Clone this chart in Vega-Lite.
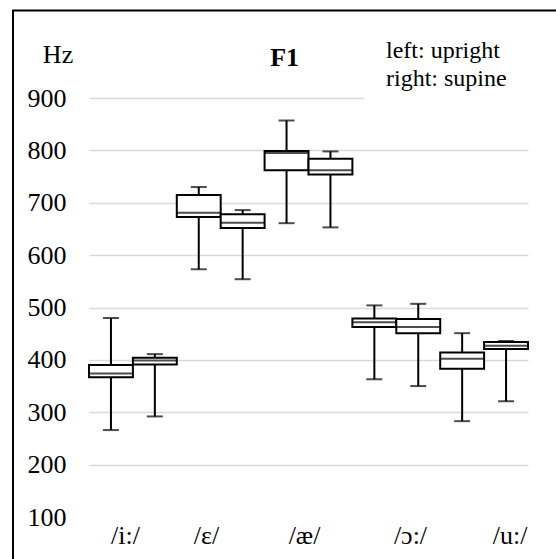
{
  "$schema": "https://vega.github.io/schema/vega-lite/v6.json",
  "width": 439,
  "height": 419,
  "autosize": "none",
  "padding": {"left": 89, "top": 98, "right": 28, "bottom": 42},
  "background": "white",
  "config": {"view": {"stroke": null}, "font": "Liberation Serif"},
  "layer": [
    {
      "data": {"values": [
        {"box": "/i:/ upright", "vowel": "/i:/", "posture": "upright", "min": 266, "q1": 367, "median": 374, "q3": 390, "max": 480},
        {"box": "/i:/ supine", "vowel": "/i:/", "posture": "supine", "min": 292, "q1": 391, "median": 399, "q3": 404, "max": 411},
        {"box": "/ε/ upright", "vowel": "/ε/", "posture": "upright", "min": 573, "q1": 673, "median": 681, "q3": 715, "max": 730},
        {"box": "/ε/ supine", "vowel": "/ε/", "posture": "supine", "min": 554, "q1": 652, "median": 662, "q3": 678, "max": 686},
        {"box": "/æ/ upright", "vowel": "/æ/", "posture": "upright", "min": 661, "q1": 762, "median": 795, "q3": 799, "max": 857},
        {"box": "/æ/ supine", "vowel": "/æ/", "posture": "supine", "min": 653, "q1": 754, "median": 762, "q3": 784, "max": 798},
        {"box": "/ɔ:/ upright", "vowel": "/ɔ:/", "posture": "upright", "min": 363, "q1": 463, "median": 472, "q3": 479, "max": 504},
        {"box": "/ɔ:/ supine", "vowel": "/ɔ:/", "posture": "supine", "min": 350, "q1": 451, "median": 463, "q3": 478, "max": 507},
        {"box": "/u:/ upright", "vowel": "/u:/", "posture": "upright", "min": 283, "q1": 383, "median": 402, "q3": 414, "max": 451},
        {"box": "/u:/ supine", "vowel": "/u:/", "posture": "supine", "min": 321, "q1": 421, "median": 427, "q3": 434, "max": 436}
      ]},
      "encoding": {
        "x": {"field": "box", "type": "nominal", "sort": null, "axis": null,
              "scale": {"paddingInner": 0, "paddingOuter": 0}}
      },
      "layer": [
        {
          "mark": {"type": "rule", "color": "black", "strokeWidth": 2},
          "encoding": {
            "y": {"field": "min", "type": "quantitative",
                  "scale": {"domain": [100, 900], "nice": false, "zero": false},
                  "axis": {"title": null, "values": [100, 200, 300, 400, 500, 600, 700, 800, 900],
                           "domain": false, "ticks": false, "labelPadding": 23,
                           "labelFont": "Liberation Serif", "labelFontSize": 26, "labelColor": "black",
                           "gridColor": "#d9d9d9", "gridWidth": 1.5,
                           "gridOpacity": {"condition": {"test": "datum.value <= 100", "value": 0}, "value": 1}}},
            "y2": {"field": "max"}
          }
        },
        {
          "mark": {"type": "tick", "color": "black", "thickness": 2, "size": 16},
          "encoding": {"y": {"field": "min", "type": "quantitative"}}
        },
        {
          "mark": {"type": "tick", "color": "black", "thickness": 2, "size": 16},
          "encoding": {"y": {"field": "max", "type": "quantitative"}}
        },
        {
          "mark": {"type": "rect", "fill": "white", "stroke": "black", "strokeWidth": 2},
          "encoding": {
            "y": {"field": "q1", "type": "quantitative"},
            "y2": {"field": "q3"}
          }
        },
        {
          "mark": {"type": "tick", "color": "black", "thickness": 2, "size": 44},
          "encoding": {"y": {"field": "median", "type": "quantitative"}}
        }
      ]
    },
    {
      "data": {"values": [{}]},
      "layer": [
        {
          "mark": {"type": "rect", "fill": "white", "stroke": null},
          "encoding": {
            "x": {"datum": 6.264, "type": "quantitative",
                  "scale": {"domain": [0, 10], "nice": false, "zero": false},
                  "axis": {"title": null, "values": [0.82, 2.665, 4.898, 7.312, 9.579],
                           "labelExpr": "datum.value < 1.5 ? '/i:/' : datum.value < 3.5 ? '/ε/' : datum.value < 6 ? '/æ/' : datum.value < 8.5 ? '/ɔ:/' : '/u:/'",
                           "domain": false, "ticks": false, "grid": false, "labelPadding": 5,
                           "labelFlush": false, "labelOverlap": false, "labelBound": false,
                           "labelFont": "Liberation Serif", "labelFontSize": 26, "labelColor": "black"}},
            "x2": {"datum": 10.2},
            "y": {"datum": 888, "type": "quantitative", "scale": {"domain": [100, 900], "nice": false, "zero": false}},
            "y2": {"datum": 912}
          }
        },
        {
          "mark": {"type": "rect", "fill": null, "stroke": "black", "strokeWidth": 2, "clip": false},
          "encoding": {
            "x": {"datum": -1.731, "type": "quantitative"},
            "x2": {"datum": 11},
            "y": {"datum": 1067, "type": "quantitative"},
            "y2": {"datum": 0}
          }
        },
        {
          "mark": {"type": "text", "text": "Hz", "font": "Liberation Serif", "fontSize": 26, "color": "black", "align": "center", "baseline": "middle"},
          "encoding": {
            "x": {"datum": -0.706, "type": "quantitative"},
            "y": {"datum": 982, "type": "quantitative"}
          }
        },
        {
          "mark": {"type": "text", "text": "F1", "font": "Liberation Serif", "fontSize": 26, "fontWeight": "bold", "color": "black", "align": "center", "baseline": "middle"},
          "encoding": {
            "x": {"datum": 4.456, "type": "quantitative"},
            "y": {"datum": 976, "type": "quantitative"}
          }
        },
        {
          "mark": {"type": "text", "text": "left: upright", "font": "Liberation Serif", "fontSize": 24, "color": "black", "align": "left", "baseline": "middle"},
          "encoding": {
            "x": {"datum": 6.765, "type": "quantitative"},
            "y": {"datum": 990, "type": "quantitative"}
          }
        },
        {
          "mark": {"type": "text", "text": "right: supine", "font": "Liberation Serif", "fontSize": 24, "color": "black", "align": "left", "baseline": "middle"},
          "encoding": {
            "x": {"datum": 6.765, "type": "quantitative"},
            "y": {"datum": 936, "type": "quantitative"}
          }
        }
      ]
    }
  ],
  "resolve": {"scale": {"x": "independent"}, "axis": {"x": "independent"}}
}
